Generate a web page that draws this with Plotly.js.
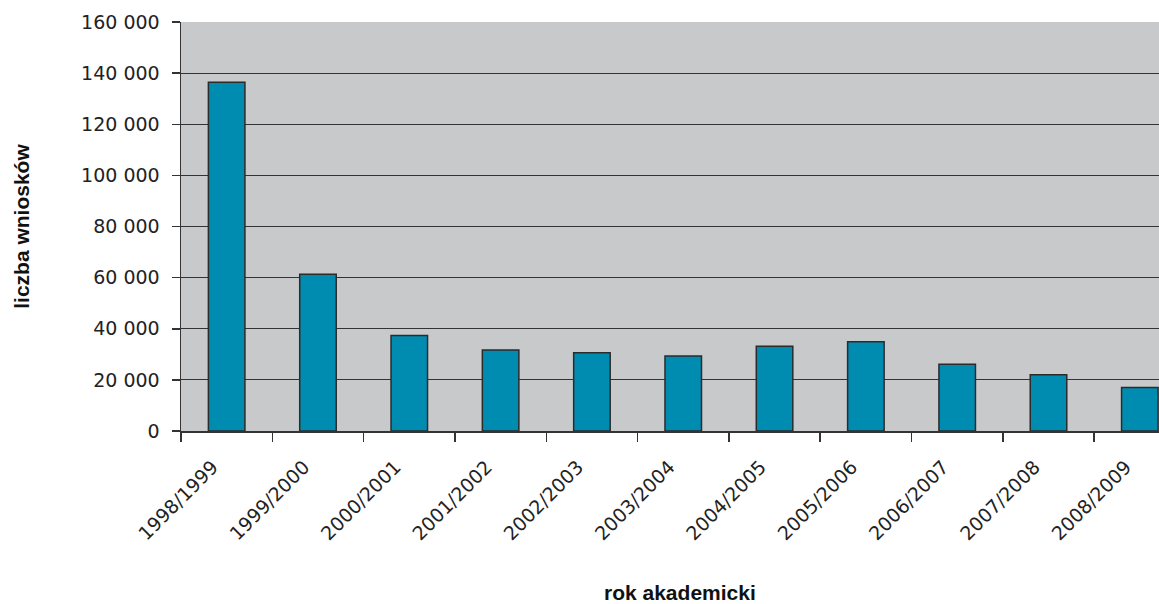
<!DOCTYPE html>
<html><head><meta charset="utf-8">
<script src="https://cdn.plot.ly/plotly-3.0.1.min.js"></script>
<style>html,body{margin:0;padding:0;background:#fff;overflow:hidden}</style>
</head><body><div id="chart" style="width:1159px;height:604px"></div>
<script>
const categories = ["1998/1999","1999/2000","2000/2001","2001/2002","2002/2003","2003/2004","2004/2005","2005/2006","2006/2007","2007/2008","2008/2009"];
const values = [136400, 61300, 37400, 31700, 30600, 29300, 33200, 34900, 26100, 22000, 17000];
const yTicks = [0, 20000, 40000, 60000, 80000, 100000, 120000, 140000, 160000];
const yTitle = "liczba wniosków";
const xTitle = "rok akademicki";

const font = "DejaVu Sans, Verdana, sans-serif";
const tfont = "Liberation Sans, Arial, sans-serif";
Plotly.newPlot("chart", [{
  type: "bar", x: categories, y: values, width: 0.4,
  marker: {color: "#008bb0", line: {color: "#2b2b2b", width: 1.5}},
  hoverinfo: "x+y"
}], {
  width: 1159, height: 604,
  margin: {l: 181, r: 0, t: 22, b: 173, pad: 0},
  paper_bgcolor: "#ffffff", plot_bgcolor: "#c8c9cb",
  separators: ". ",
  font: {family: font, size: 19, color: "#222"},
  xaxis: {
    type: "category", range: [-0.5, 10.21], tickson: "boundaries",
    ticks: "outside", ticklen: 9, tickwidth: 1.5, tickcolor: "#333",
    tickangle: -45, showgrid: false, showline: true, linecolor: "#333", linewidth: 1.5,
    ticklabelstandoff: 16, ticklabelshift: -14,
    tickfont: {family: font, size: 19, color: "#222"}
  },
  yaxis: {
    range: [0, 160000], tickvals: yTicks, tickformat: ",d",
    ticks: "outside", ticklen: 8, tickwidth: 1.5, tickcolor: "#333",
    showgrid: true, gridcolor: "#333", gridwidth: 1.2,
    showline: true, linecolor: "#333", linewidth: 1.5, zeroline: false,
    ticklabelstandoff: 8,
    tickfont: {family: font, size: 19, color: "#222"},
    title: {text: "<b>" + yTitle + "</b>", font: {family: tfont, size: 21, color: "#111"}, standoff: 46}
  },
  annotations: [{
    text: "<b>" + xTitle + "</b>", xref: "paper", yref: "paper",
    x: (680 - 181) / 978, y: -0.395, xanchor: "center", yanchor: "middle",
    showarrow: false, font: {family: tfont, size: 21, color: "#111"}
  }],
  showlegend: false
}, {displayModeBar: false, staticPlot: true});
</script></body></html>
